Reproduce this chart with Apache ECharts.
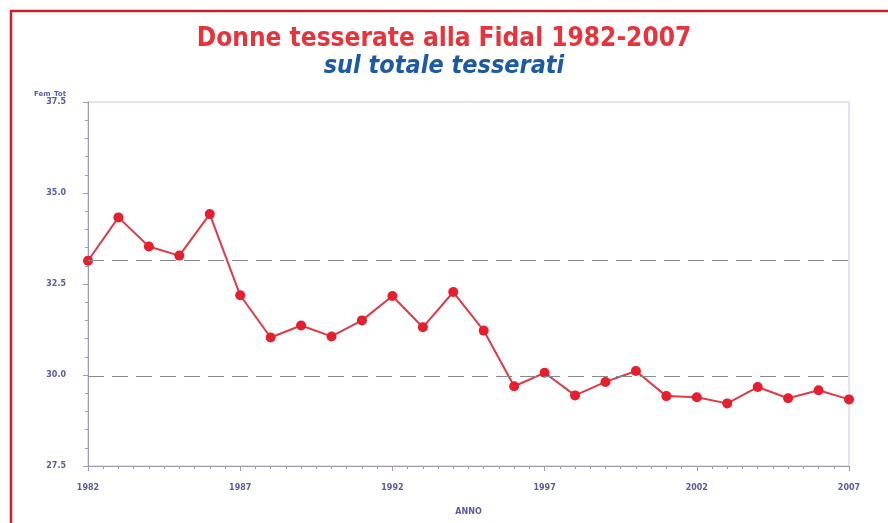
<!DOCTYPE html>
<html>
<head>
<meta charset="utf-8">
<script src="https://cdn.jsdelivr.net/npm/echarts@6/dist/echarts.min.js"></script>
<style>
  html, body { margin: 0; padding: 0; background: #fff; }
  #chart { width: 888px; height: 523px; }
</style>
</head>
<body>
<div id="chart"></div>
<script>
  // share of women among Fidal members, %
  const years = [1982, 1983, 1984, 1985, 1986, 1987, 1988, 1989, 1990, 1991, 1992, 1993, 1994,
                 1995, 1996, 1997, 1998, 1999, 2000, 2001, 2002, 2003, 2004, 2005, 2006, 2007];
  const femTot = [33.14, 34.33, 33.53, 33.28, 34.42, 32.19, 31.03, 31.36, 31.06, 31.50, 32.17, 31.31, 32.28,
                  31.22, 29.69, 30.06, 29.44, 29.81, 30.11, 29.42, 29.39, 29.22, 29.67, 29.36, 29.58, 29.33];
  const refLines = [33.15, 29.97];

  const chart = echarts.init(document.getElementById('chart'));
  const axisBlue = '#5a5aa6';
  const tickFont = { color: axisBlue, fontSize: 8, fontWeight: 'bold', fontFamily: 'DejaVu Sans' };

  chart.setOption({
    animation: false,
    backgroundColor: '#fff',
    title: [{
      text: 'Donne tesserate alla Fidal 1982-2007',
      left: 'center',
      top: 21,
      textStyle: { color: '#e8323c', fontSize: 26, fontWeight: 'bold', fontFamily: 'Liberation Sans Narrow, DejaVu Sans Condensed, sans-serif' }
    }, {
      text: 'sul totale tesserati',
      left: 'center',
      top: 49,
      textStyle: { color: '#1d5aa6', fontSize: 25, fontWeight: 'bold', fontStyle: 'italic', fontFamily: 'Liberation Sans Narrow, DejaVu Sans Condensed, sans-serif' }
    }],
    graphic: [{
      type: 'polyline',
      shape: { points: [[11, 523], [11, 11], [888, 11]] },
      style: { stroke: '#c8202a', lineWidth: 2.5, fill: null }
    }],
    grid: { left: 88, right: 39, top: 102, bottom: 57, show: true, borderColor: '#c8c8dc', borderWidth: 1 },
    xAxis: {
      type: 'value',
      min: 1982, max: 2007, interval: 5,
      name: 'ANNO',
      nameLocation: 'middle',
      nameGap: 42,
      nameTextStyle: tickFont,
      axisLine: { lineStyle: { color: '#9a9abc' } },
      axisTick: { length: 5, lineStyle: { color: '#9a9abc' } },
      minorTick: { show: true, splitNumber: 10, length: 3, lineStyle: { color: '#9a9abc' } },
      axisLabel: Object.assign({ margin: 18, formatter: v => String(v) }, tickFont),
      splitLine: { show: false }
    },
    yAxis: {
      type: 'value',
      min: 27.5, max: 37.5, interval: 2.5,
      name: 'Fem_Tot',
      nameLocation: 'end',
      nameGap: 2,
      nameTextStyle: Object.assign({ align: 'right', padding: [0, 22, 0, 0] }, tickFont, { fontSize: 7 }),
      axisLine: { show: true, lineStyle: { color: '#9a9abc' } },
      axisTick: { show: true, length: 5, lineStyle: { color: '#9a9abc' } },
      minorTick: { show: true, splitNumber: 5, length: 3, lineStyle: { color: '#9a9abc' } },
      axisLabel: Object.assign({ margin: 22, formatter: v => v.toFixed(1) }, tickFont),
      splitLine: { show: false }
    },
    series: [{
      type: 'line',
      data: years.map((y, i) => [y, femTot[i]]),
      symbol: 'circle',
      symbolSize: 10,
      itemStyle: { color: '#e61e2d' },
      lineStyle: { color: '#e03a44', width: 2 },
      markLine: {
        silent: true,
        symbol: 'none',
        label: { show: false },
        lineStyle: { color: '#8a8a8a', type: [16, 8], width: 1 },
        data: refLines.map(v => ({ yAxis: v }))
      },
      z: 3
    }]
  });
</script>
</body>
</html>
